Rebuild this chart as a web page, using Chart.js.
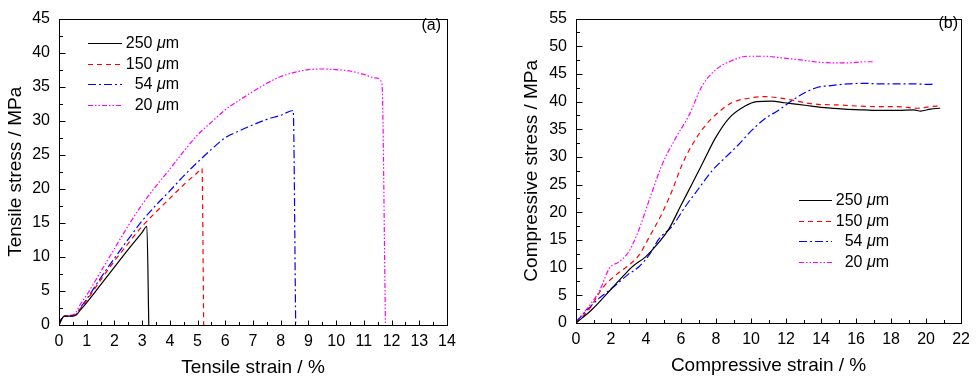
<!DOCTYPE html>
<html><head><meta charset="utf-8">
<script src="https://cdn.jsdelivr.net/npm/chart.js@4/dist/chart.umd.min.js"></script>
<style>
html,body{margin:0;padding:0;background:#fff;}
#wrap{position:relative;width:977px;height:380px;overflow:hidden;}
.box{position:absolute;top:0;height:380px;}
</style></head><body>
<div id="wrap">
<div class="box" style="left:0;width:488px"><canvas id="c1" width="488" height="380"></canvas></div>
<div class="box" style="left:488px;width:489px"><canvas id="c2" width="489" height="380"></canvas></div>
</div>
<script>
// ---- data ----
const seriesLabels = ['250 μm', '150 μm', '54 μm', '20 μm'];

// (a) tensile
const t250x = [0,0.1,0.2,0.4,0.6,0.75,1.0,1.5,2.0,2.5,3.0,3.17,3.24];
const t250y = [0,0.9,1.3,1.3,1.4,2.1,3.3,5.9,8.5,11.1,13.6,14.5,0];
const t150x = [0,0.1,0.2,0.4,0.6,0.75,1.0,1.5,2.0,2.5,3.0,3.5,4.0,4.5,5.0,5.16,5.22];
const t150y = [0,0.9,1.3,1.3,1.5,2.3,3.6,6.6,9.4,12.0,14.5,16.6,18.6,20.6,22.4,23.0,0];
const t54x = [0,0.1,0.2,0.4,0.6,0.75,1.0,1.5,2.0,2.5,3.0,3.5,4.0,4.5,5.0,5.5,6.0,6.5,7.0,7.5,8.0,8.45,8.54];
const t54y = [0,0.9,1.3,1.3,1.5,2.4,3.8,6.9,9.8,12.6,15.3,17.6,19.7,21.9,23.9,25.8,27.5,28.5,29.4,30.2,30.8,31.5,0];
const t20x = [0,0.1,0.2,0.4,0.6,0.75,1.0,1.5,2.0,2.5,3.0,3.5,4.0,4.5,5.0,5.5,6.0,6.5,7.0,7.5,8.0,8.5,9.0,9.5,10.0,10.5,11.0,11.4,11.65,11.78];
const t20y = [0.4,1.0,1.3,1.4,1.8,2.9,4.4,7.8,11.2,14.6,17.7,20.4,22.9,25.5,27.9,29.8,31.6,33.0,34.3,35.5,36.5,37.1,37.5,37.6,37.5,37.3,36.8,36.3,35.6,0];

// (b) compressive
const c250x = [0,0.87,2.0,2.76,3.23,3.99,4.74,5.31,5.97,6.64,7.30,7.96,8.71,9.66,10.32,11.17,11.93,12.68,13.44,14.2,15.33,16.46,17.41,18.36,19.3,19.68,20.25,20.8];
const c250y = [0,2.3,6.1,8.7,10.2,12.0,14.6,17.0,21.1,25.2,29.3,33.4,36.9,39.2,40.0,40.1,39.8,39.5,39.2,38.9,38.65,38.5,38.4,38.4,38.5,38.3,38.65,38.8];
const c150x = [0,0.78,1.53,2.29,3.04,3.61,4.18,4.93,5.5,6.07,6.64,7.39,8.15,8.9,10.04,10.79,11.55,12.3,13.06,13.82,14.95,16.08,17.22,18.36,19.49,20.25,20.8];
const c150y = [0,2.6,6.4,8.7,10.5,12.3,15.5,19.9,24.0,28.7,32.2,35.7,38.1,39.8,40.7,40.9,40.7,40.3,39.8,39.5,39.4,39.2,39.1,39.1,38.8,39.1,39.2];
const c54x = [0,1.15,2.1,2.95,3.61,4.18,4.74,5.5,6.26,7.01,7.77,8.53,9.28,10.04,10.79,11.55,12.3,13.06,13.82,14.57,15.52,16.46,17.41,18.36,19.3,20.25,20.53];
const c54y = [0.2,4.0,6.4,8.7,10.2,12.3,15.2,17.5,21.1,24.3,27.5,29.9,32.2,34.8,36.9,38.4,40.1,41.6,42.6,42.9,43.2,43.3,43.2,43.2,43.2,43.1,43.3];
const c20x = [0,0.78,1.34,1.91,2.48,3.04,3.61,4.18,4.93,5.69,6.45,7.2,7.96,8.9,9.85,10.79,11.74,12.68,13.63,14.57,15.52,16.46,17.03];
const c20y = [0.2,3.2,5.8,9.9,11.1,13.0,17.0,22.2,28.7,33.4,37.5,42.8,45.7,47.4,48.2,48.2,47.9,47.6,47.2,47.0,47.0,47.2,47.2];

// ---- styles ----
const FONT = '"Liberation Sans", Arial, Helvetica, sans-serif';
Chart.defaults.font.family = FONT;
Chart.defaults.color = '#000';
const styles = [
  {borderColor:'#000000', borderDash:[]},
  {borderColor:'#ff0000', borderDash:[5,4]},
  {borderColor:'#0000ff', borderDash:[8,3,2,3]},
  {borderColor:'#ff00ff', borderDash:[5,2,1.5,2,1.5,2]}
];
const zip = (xs, ys) => xs.map((v, i) => ({x: v, y: ys[i]}));
function makeDatasets(pairs){
  return pairs.map((p, i) => ({
    label: seriesLabels[i],
    data: zip(p[0], p[1]),
    borderColor: styles[i].borderColor,
    borderDash: styles[i].borderDash,
    borderWidth: 1.2,
    pointRadius: 0,
    fill: false,
    cubicInterpolationMode: 'monotone'
  }));
}

const decor = {
  id: 'decor',
  afterDraw(chart, args, o){
    const {ctx, chartArea: a, scales: {x, y}} = chart;
    ctx.save();
    ctx.strokeStyle = '#000'; ctx.lineWidth = 1; ctx.setLineDash([]);
    const L = Math.round(a.left)+0.5, T = Math.round(a.top)+0.5, R = Math.round(a.right)+0.5, B = Math.round(a.bottom)+0.5;
    ctx.strokeRect(L, T, R-L, B-T);
    // inward ticks
    const nx = Math.round((x.max - x.min)/o.xMinor);
    for (let k = 0; k <= nx; k++){
      const v = x.min + k*o.xMinor;
      const px = Math.round(x.getPixelForValue(v))+0.5;
      const major = Math.abs(v/o.xMajor - Math.round(v/o.xMajor)) < 1e-6;
      ctx.beginPath(); ctx.moveTo(px, B); ctx.lineTo(px, B-(major?5:3.5)); ctx.stroke();
    }
    const ny = Math.round((y.max - y.min)/o.yMinor);
    for (let k = 0; k <= ny; k++){
      const v = y.min + k*o.yMinor;
      const py = Math.round(y.getPixelForValue(v))+0.5;
      const major = Math.abs(v/o.yMajor - Math.round(v/o.yMajor)) < 1e-6;
      ctx.beginPath(); ctx.moveTo(L, py); ctx.lineTo(L+(major?6:3.5), py); ctx.stroke();
    }
    // legend
    const lg = o.legend;
    chart.data.datasets.forEach((ds, i) => {
      const yy = Math.round(lg.y0 + i*lg.dy) + 0.5;
      ctx.strokeStyle = styles[i].borderColor; ctx.lineWidth = 1.2; ctx.setLineDash(styles[i].borderDash);
      ctx.beginPath(); ctx.moveTo(lg.x1, yy); ctx.lineTo(lg.x2, yy); ctx.stroke();
      ctx.setLineDash([]);
      const parts = ds.label.split('μ');
      const fN = '16px ' + FONT, fI = 'italic 16px ' + FONT;
      ctx.font = fN; const w1 = ctx.measureText(parts[0]).width; const w3 = ctx.measureText(parts[1]).width;
      ctx.font = fI; const w2 = ctx.measureText('μ').width;
      let xx = lg.tx - (w1 + w2 + w3);
      ctx.fillStyle = '#000'; ctx.textBaseline = 'middle'; ctx.textAlign = 'left';
      ctx.font = fN; ctx.fillText(parts[0], xx, yy); xx += w1;
      ctx.font = fI; ctx.fillText('μ', xx, yy); xx += w2;
      ctx.font = fN; ctx.fillText(parts[1], xx, yy);
    });
    // panel label
    ctx.font = '16px ' + FONT; ctx.textAlign = 'right'; ctx.textBaseline = 'middle'; ctx.fillStyle = '#000';
    ctx.fillText(o.tag.text, o.tag.x, o.tag.y);
    ctx.restore();
  }
};

function makeChart(id, cfg){
  return new Chart(document.getElementById(id), {
    type: 'line',
    data: {datasets: makeDatasets(cfg.pairs)},
    options: {
      responsive: false, animation: false, devicePixelRatio: 1,
      layout: {padding: cfg.padding},
      plugins: {legend: {display: false}, tooltip: {enabled: false}, decor: cfg.decor},
      scales: {
        x: {
          type: 'linear', min: cfg.xr[0], max: cfg.xr[1],
          afterFit(s){ s.height = cfg.xh; },
          ticks: {stepSize: cfg.xstep, padding: 7, color: '#000', font: {size: 16}, maxRotation: 0, autoSkip: false},
          grid: {display: false, drawTicks: false}, border: {display: false},
          title: {display: true, text: cfg.xtitle, color: '#000', font: {size: 19}, padding: {top: 0, bottom: cfg.xtp}}
        },
        y: {
          type: 'linear', min: cfg.yr[0], max: cfg.yr[1],
          afterFit(s){ s.width = cfg.yw; },
          ticks: {stepSize: 5, padding: 9, color: '#000', font: {size: 16}, autoSkip: false},
          grid: {display: false, drawTicks: false}, border: {display: false},
          title: {display: true, text: cfg.ytitle, color: '#000', font: {size: 19}, padding: {top: cfg.ytp, bottom: 0}}
        }
      }
    },
    plugins: [decor]
  });
}

makeChart('c1', {
  pairs: [[t250x,t250y],[t150x,t150y],[t54x,t54y],[t20x,t20y]],
  padding: {left: 0, right: 41, top: 13, bottom: 0},
  xr: [0, 14], yr: [0, 45], xstep: 1, xh: 55, yw: 59, xtp: 0.5, ytp: 4.5,
  xtitle: 'Tensile strain / %', ytitle: 'Tensile stress / MPa',
  decor: {xMajor: 1, xMinor: 0.5, yMajor: 5, yMinor: 2.5,
          legend: {x1: 88, x2: 122, tx: 179, y0: 43, dy: 20.7},
          tag: {text: '(a)', x: 441, y: 26}}
});
makeChart('c2', {
  pairs: [[c250x,c250y],[c150x,c150y],[c54x,c54y],[c20x,c20y]],
  padding: {left: 0, right: 13, top: 10, bottom: 0},
  xr: [0, 22], yr: [0, 55], xstep: 2, xh: 57, yw: 88, xtp: 2.5, ytp: 32,
  xtitle: 'Compressive strain / %', ytitle: 'Compressive stress / MPa',
  decor: {xMajor: 2, xMinor: 1, yMajor: 5, yMinor: 2.5,
          legend: {x1: 311, x2: 344, tx: 401, y0: 200, dy: 20.5},
          tag: {text: '(b)', x: 470, y: 24}}
});
</script>
</body></html>
